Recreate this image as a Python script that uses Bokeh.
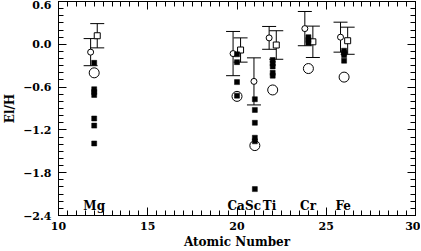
from bokeh.plotting import figure
from bokeh.models import (ColumnDataSource, Range1d, LinearAxis, FixedTicker,
                          Whisker, TeeHead)
from bokeh.core.properties import value
from bokeh.embed import file_html
from bokeh.resources import INLINE

# ---- data ----
# small open circles with error bars
circ_x = [11.80, 19.78, 20.95, 21.80, 23.80, 25.80]
circ_y = [-0.11, -0.13, -0.52, 0.09, 0.22, 0.10]
circ_err = [0.19, 0.31, 0.33, 0.16, 0.24, 0.21]

# open squares with error bars
sq_x = [12.17, 20.20, 22.20, 24.25, 26.20]
sq_y = [0.12, -0.08, -0.01, 0.035, 0.05]
sq_err = [0.17, 0.17, 0.20, 0.22, 0.19]

# big open circles
big_x = [12.0, 20.0, 21.0, 22.0, 24.0, 26.0]
big_y = [-0.40, -0.73, -1.42, -0.64, -0.34, -0.46]

# filled squares
fill_x = ([12.0] * 7 + [20.0] * 4 + [21.0] * 6 + [22.0] * 5 + [24.0] * 3 + [26.0] * 4)
fill_y = ([-0.26, -0.63, -0.67, -0.71, -1.04, -1.14, -1.39] +
          [-0.14, -0.25, -0.53, -0.72] +
          [-0.77, -0.92, -1.10, -1.31, -1.36, -2.03] +
          [-0.22, -0.27, -0.31, -0.40, -0.44] +
          [0.10, 0.06, 0.02] +
          [-0.09, -0.12, -0.15, -0.23])

# element labels
elem_names = ["Mg", "Ca", "Sc", "Ti", "Cr", "Fe"]
elem_x = [12.0, 19.95, 20.9, 21.82, 23.98, 25.95]
elem_y = [-2.27] * 6

# ticks
x_ticks = [10, 15, 20, 25, 30]
x_labels = ["10", "15", "20", "25", "30"]
y_ticks = [-2.4, -1.8, -1.2, -0.6, 0.0, 0.6]
y_labels = ["\u22122.4", "\u22121.8", "\u22121.2", "\u22120.6", "0.0", "0.6"]
x_minor = [10 + 0.5 * i for i in range(41)]
y_minor = [round(-2.4 + 0.1 * i, 2) for i in range(31)]

FONT = "DejaVu Serif"

p = figure(frame_width=357, frame_height=214, output_backend="svg",
           toolbar_location=None,
           x_range=Range1d(10, 30), y_range=Range1d(-2.4, 0.6),
           min_border_left=0, min_border_right=5, min_border_top=1,
           min_border_bottom=0, x_axis_label="Atomic Number", y_axis_label="El/H")
p.grid.visible = False
p.outline_line_color = "black"
p.outline_line_width = 1
p.background_fill_color = "white"
p.border_fill_color = "white"


def style_axis(ax, ticks, minor, overrides, show_labels):
    ax.ticker = FixedTicker(ticks=ticks, minor_ticks=minor)
    ax.major_tick_in = 8
    ax.major_tick_out = 0
    ax.minor_tick_in = 5
    ax.minor_tick_out = 0
    ax.axis_line_color = "black"
    ax.major_tick_line_color = "black"
    ax.minor_tick_line_color = "black"
    ax.major_label_overrides = overrides
    ax.major_label_text_font = FONT
    ax.major_label_text_font_style = "bold"
    if show_labels:
        ax.major_label_text_color = "black"
        ax.major_label_text_font_size = "11px"
    else:
        ax.major_label_text_color = None
        ax.major_label_text_font_size = "1px"
        ax.major_label_standoff = 0


xo = {t: l for t, l in zip(x_ticks, x_labels)}
yo = {t: l for t, l in zip(y_ticks, y_labels)}

style_axis(p.xaxis[0], x_ticks, x_minor, xo, True)
style_axis(p.yaxis[0], y_ticks, y_minor, yo, True)
p.xaxis[0].major_label_standoff = 6
p.yaxis[0].major_label_standoff = 7
for ax in (p.xaxis[0], p.yaxis[0]):
    ax.axis_label_text_font = FONT
    ax.axis_label_text_font_style = "bold"
    ax.axis_label_text_font_size = "12px"
    ax.axis_label_text_color = "black"
p.xaxis[0].axis_label_standoff = 2
p.yaxis[0].axis_label_standoff = 3

top = LinearAxis()
right = LinearAxis()
style_axis(top, x_ticks, x_minor, xo, False)
style_axis(right, y_ticks, y_minor, yo, False)
p.add_layout(top, "above")
p.add_layout(right, "right")

# error bars
csrc = ColumnDataSource(dict(x=circ_x, y=circ_y,
                             lo=[y - e for y, e in zip(circ_y, circ_err)],
                             hi=[y + e for y, e in zip(circ_y, circ_err)]))
ssrc = ColumnDataSource(dict(x=sq_x, y=sq_y,
                             lo=[y - e for y, e in zip(sq_y, sq_err)],
                             hi=[y + e for y, e in zip(sq_y, sq_err)]))
for src in (csrc, ssrc):
    w = Whisker(source=src, base="x", upper="hi", lower="lo", dimension="height",
                line_color="black", line_width=1,
                upper_head=TeeHead(size=14, line_color="black", line_width=1),
                lower_head=TeeHead(size=14, line_color="black", line_width=1))
    p.add_layout(w)

p.scatter("x", "y", source=csrc, marker="circle", size=6,
          fill_color="white", line_color="black", line_width=1)
p.scatter("x", "y", source=ssrc, marker="square", size=6,
          fill_color="white", line_color="black", line_width=1)
p.scatter(fill_x, fill_y, marker="square", size=5,
          fill_color="black", line_color="black", line_width=0.5)
p.scatter(big_x, big_y, marker="circle", size=10,
          fill_color=None, line_color="black", line_width=1)

p.text(elem_x, elem_y, text=elem_names, text_font=value(FONT),
       text_font_style="bold", text_font_size="12px", text_color="black",
       text_align="center", text_baseline="middle")

open("out.html", "w").write(file_html(p, INLINE))
